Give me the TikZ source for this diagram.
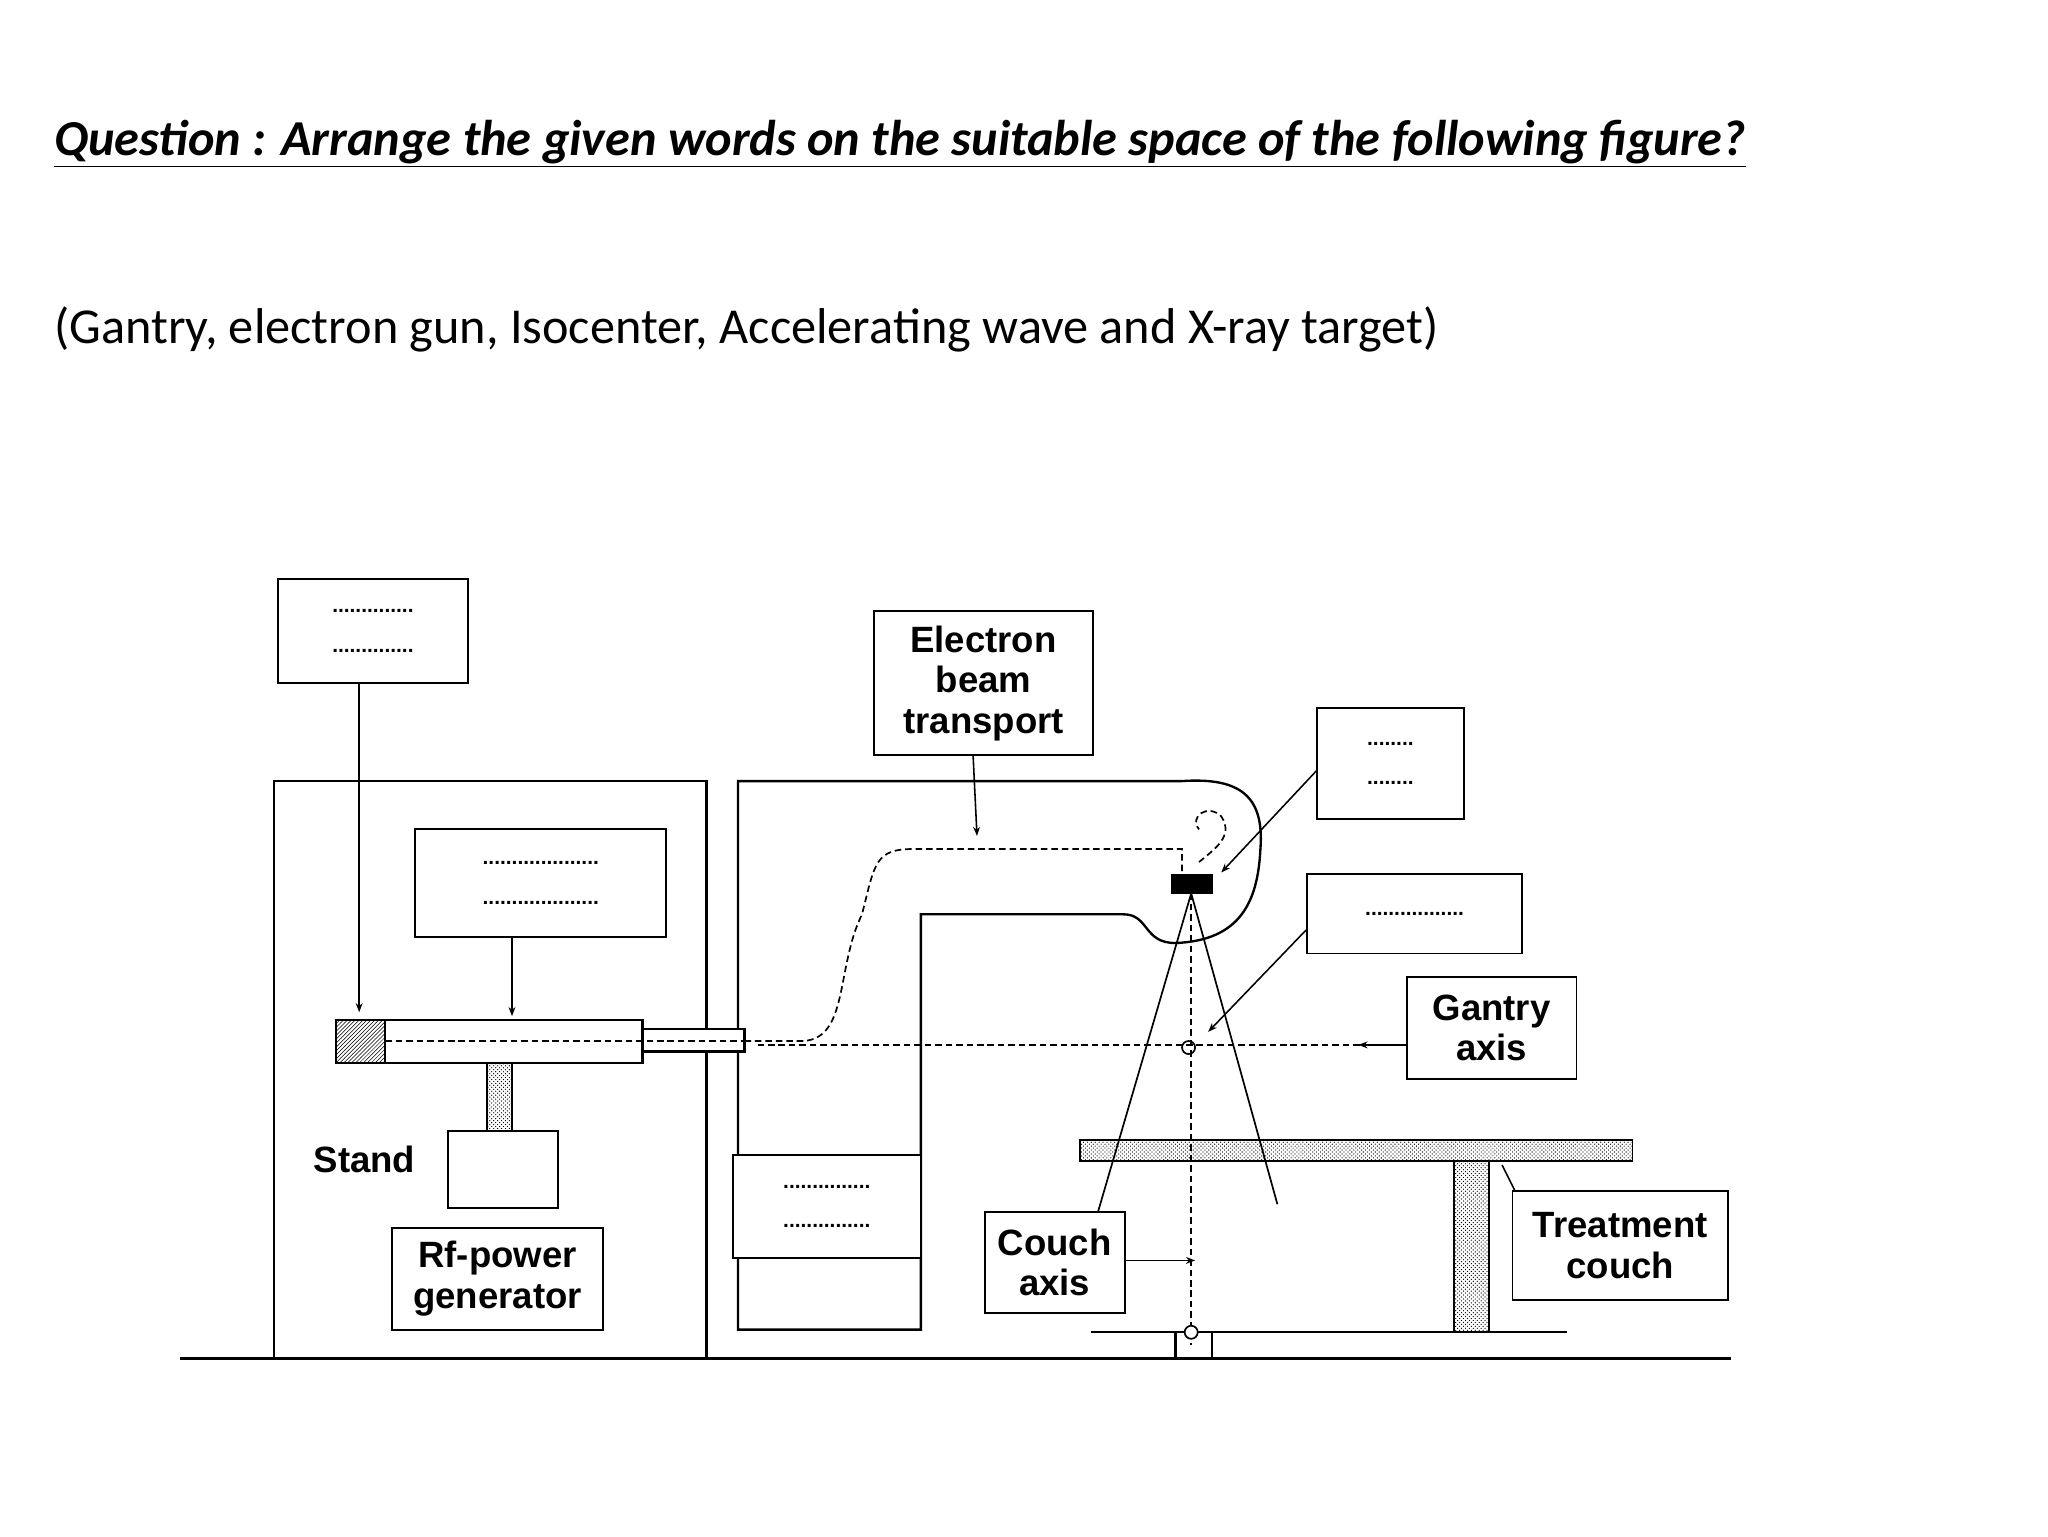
\documentclass[tikz,border=0pt]{standalone}
\usepackage{fontspec}
\setmainfont{Carlito}
\newfontfamily\lab{Liberation Sans}
\usetikzlibrary{arrows.meta,patterns}
\begin{document}
\begin{tikzpicture}[x=1pt,y=-1pt,
 bx/.style={draw,line width=1.5pt,fill=white,align=center,inner sep=0pt,font=\lab\bfseries\fontsize{28}{31}\selectfont},
 ln/.style={line width=1.8pt},
 ar/.style={line width=1.2pt,-{Stealth[length=7pt]}},
 dl/.style={line width=1.3pt,dashed,dash pattern=on 5pt off 3pt},
 dots/.style={font=\lab\bfseries\fontsize{16}{30}\selectfont}]
\useasboundingbox (0,0) rectangle (1568,1176);
\node[anchor=west,font=\bfseries\itshape\fontsize{38.5}{40}\selectfont] (t) at (38,110) {\underline{Question : Arrange the given words on the suitable space of the following figure?}};
\node[anchor=west,font=\fontsize{38.5}{40}\selectfont] (s) at (38,252) {(Gantry, electron gun, Isocenter, Accelerating wave and X-ray target)};
% ground
\draw[ln] (138,1040) -- (1325,1040);
% stand
\draw[ln] (210,1040) -- (210,598) -- (541,598) -- (541,1040);
% gantry
\draw[ln] (565,1018) -- (565,598) -- (905,598) .. controls (950,595) and (968,610) .. (965,650)
 .. controls (963,690) and (950,720) .. (900,722) .. controls (875,722) and (880,700) .. (860,700) -- (705,700) -- (705,1018) -- cycle;
% boxes
\node[bx,minimum width=145,minimum height=80] (b1) at (285.5,483) {};
\node[dots,align=center] at (b1) {..............\\..............};
\draw[ar] (275,523) -- (275,775);
\node[bx,minimum width=192,minimum height=83] (b2) at (414,676) {};
\node[dots,align=center] at (b2) {....................\\....................};
\draw[ar] (392,718) -- (392,778);
% accelerator tube
\draw[ln,fill=white] (257,781) rectangle (492,814);
\draw[ln,pattern=north east lines] (257,781) rectangle (295,814);
\draw[ln,fill=white] (492,788) rectangle (570,805);
\draw[dl] (295,797) -- (570,797);
% column and rf
\draw[line width=1.2pt,pattern=crosshatch dots] (373,814) rectangle (392,866);
\draw[ln,fill=white] (343,866) rectangle (427,925);
\node[font=\lab\bfseries\fontsize{28}{30}\selectfont] (st) at (279,888) {Stand};
\node[bx,minimum width=162,minimum height=78] (rf) at (381,979) {Rf-power\\generator};
\node[bx,minimum width=168,minimum height=110] (eb) at (753,523) {Electron\\beam\\transport};
\draw[ar] (745,578) -- (748,640);
% beam path
\draw[dl] (570,797) -- (615,797) .. controls (650,795) and (640,740) .. (660,700) .. controls (670,660) and (670,650) .. (700,650) -- (905,650) -- (905,668);
\draw[dl] (918,660) .. controls (930,650) and (945,640) .. (935,625) .. controls (925,615) and (910,625) .. (918,635);
\draw[fill=black] (897,669) rectangle (928,684);
\draw[line width=1.3pt] (912,684) -- (840,930);
\draw[line width=1.3pt] (912,684) -- (978,922);
\draw[dl] (912,684) -- (912,1030);
\draw[dl] (580,800) -- (1075,800);
\draw[line width=1.3pt] (910,802) circle (5);
% right boxes
\node[bx,minimum width=113,minimum height=85] (b3) at (1064.5,584.5) {};
\node[dots,align=center] at (b3) {........\\........};
\draw[ar] (1008,590) -- (935,668);
\node[bx,minimum width=164,minimum height=61] (b4) at (1083,699.5) {};
\node[dots] at (b4) {.................};
\draw[ar] (1000,712) -- (925,790);
\node[bx,minimum width=130,minimum height=78] (ga) at (1142,787) {Gantry\\axis};
\draw[ar] (1077,800) -- (1040,800);
% couch
\draw[line width=1.2pt,pattern=crosshatch dots] (827,873) rectangle (1250,889);
\draw[line width=1.2pt,pattern=crosshatch dots] (1113,889) rectangle (1140,1020);
\node[bx,minimum width=165,minimum height=83] (tc) at (1240.5,953.5) {Treatment\\couch};
\draw[line width=1.2pt] (1150,892) -- (1160,912);
\node[bx,minimum width=107,minimum height=77] (ca) at (807.5,966.5) {Couch\\axis};
\draw[ar] (861,965) -- (915,965);
\draw[ln] (835,1020) -- (1200,1020);
\draw[ln] (900,1020) rectangle (928,1040);
\draw[line width=1.3pt,fill=white] (912,1020) circle (5);
\node[bx,minimum width=144,minimum height=79] (b5) at (633,923.5) {};
\node[dots,align=center] at (b5) {...............\\...............};
\end{tikzpicture}
\end{document}
